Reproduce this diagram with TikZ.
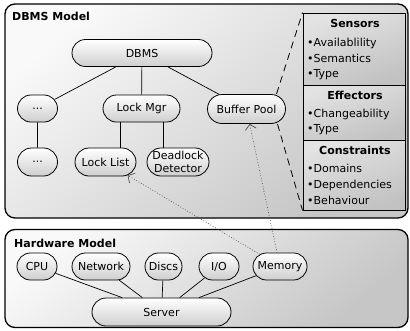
\documentclass[tikz,border=0pt]{standalone}
\usepackage{fontspec}
\setmainfont{DejaVu Sans}
\usetikzlibrary{shapes.misc,arrows.meta,calc}
\begin{document}
\begin{tikzpicture}[x=1pt,y=-1pt,
  font=\fontsize{11}{12}\selectfont,
  model/.style={draw=black, line width=1.3pt, rounded corners=10pt,
    top color=gray!5, bottom color=gray!45, shading angle=40,
    inner sep=0pt},
  title/.style={anchor=west, inner sep=0pt, font=\fontsize{11}{12}\selectfont\bfseries},
  comp/.style={rounded rectangle, draw=black, line width=0.8pt,
    top color=white, bottom color=gray!38, minimum height=27pt,
    inner xsep=3pt, inner ysep=0pt, align=center,
    font=\fontsize{11}{11.5}\selectfont},
  link/.style={line width=0.7pt},
  uses/.style={dotted, line width=0.7pt, draw=black!70,
    -{Straight Barb[length=5pt,width=11pt,line width=0.7pt]}},
  zoomline/.style={dash pattern=on 7pt off 5pt, line width=0.8pt},
  facet/.style={rectangle, draw=black, line width=0.9pt,
    top color=gray!22, bottom color=gray!48, shading angle=20,
    minimum width=102pt, inner sep=0pt},
  head/.style={anchor=base, inner sep=0pt, font=\fontsize{11}{12}\selectfont\bfseries},
  item/.style={anchor=base west, inner sep=0pt}
]
\useasboundingbox (0,0) rectangle (410,330);

% model containers
\node[model, minimum width=403pt, minimum height=214pt] (dbmsbox) at (206.5,111) {};
\node[title] (dbmstitle) at (12,16) {DBMS Model};
\node[model, minimum width=403pt, minimum height=98pt] (hwbox) at (206.5,278.5) {};
\node[title] (hwtitle) at (14,243) {Hardware Model};

% DBMS components
\node[comp, minimum width=146pt] (dbms) at (142,53) {DBMS};
\node[comp, minimum width=46pt] (dotsa) at (37.5,108.5) {...};
\node[comp, minimum width=83pt] (lockmgr) at (141.5,108.5) {Lock Mgr};
\node[comp, minimum width=84pt, minimum height=29pt] (bufpool) at (246.5,109) {Buffer Pool};
\node[comp, minimum width=46pt, minimum height=28pt] (dotsb) at (37.5,162) {...};
\node[comp, minimum width=67pt, minimum height=28pt] (locklist) at (105.5,162) {Lock List};
\node[comp, minimum width=68pt, minimum height=28pt,
      font=\fontsize{11}{13.5}\selectfont] (deadlock) at (178,162) {Deadlock\\Detector};

\draw[link] (dbms) -- (dotsa);
\draw[link] (dbms) -- (lockmgr);
\draw[link] (dbms) -- (bufpool);
\draw[link] (dotsa) -- (dotsb);
\draw[link] ([xshift=-21.5pt]lockmgr.south) -- ([xshift=-21.5pt]lockmgr.south |- locklist.north);
\draw[link] ([xshift=21.5pt]lockmgr.south) -- ([xshift=21.5pt]lockmgr.south |- deadlock.north);

% hardware components
\node[comp, minimum width=46pt] (cpu) at (37,266.5) {CPU};
\node[comp, minimum width=64pt] (network) at (101,266.5) {Network};
\node[comp, minimum width=43pt] (discs) at (163.5,266.5) {Discs};
\node[comp, minimum width=46pt] (io) at (219,266.5) {I/O};
\node[comp, minimum width=60pt] (memory) at (280,266.5) {Memory};
\node[comp, minimum width=145pt, minimum height=28pt] (server) at (161.5,312) {Server};

\foreach \hw in {cpu,network,discs,io,memory}
  \draw[link] (\hw) -- (server);

% resource usage
\draw[uses] (memory) -- (locklist);
\draw[uses] (memory) -- (bufpool);

% facet table of a component
\node[facet, minimum height=72pt] (sensors) at (354,49) {};
\node[facet, minimum height=55pt] (effectors) at (354,112.5) {};
\node[facet, minimum height=70pt] (constraints) at (354,175) {};

\node[head] (hsens) at (355,27) {Sensors};
\node[item] (s1) at (307,46) {\textbullet Availablility};
\node[item] (s2) at (307,62) {\textbullet Semantics};
\node[item] (s3) at (307,77) {\textbullet Type};
\node[head] (heff) at (355,99) {Effectors};
\node[item] (e1) at (307,117) {\textbullet Changeability};
\node[item] (e2) at (307,132) {\textbullet Type};
\node[head] (hcons) at (355,154) {Constraints};
\node[item] (c1) at (307,172) {\textbullet Domains};
\node[item] (c2) at (307,188) {\textbullet Dependencies};
\node[item] (c3) at (307,204) {\textbullet Behaviour};

\coordinate (bptop) at ($(bufpool.center)+(30,-15)$);
\coordinate (bpbot) at ($(bufpool.center)+(31,15)$);
\draw[zoomline] (bptop) -- (sensors.north west);
\draw[zoomline] (bpbot) -- (constraints.south west);
\end{tikzpicture}
\end{document}
